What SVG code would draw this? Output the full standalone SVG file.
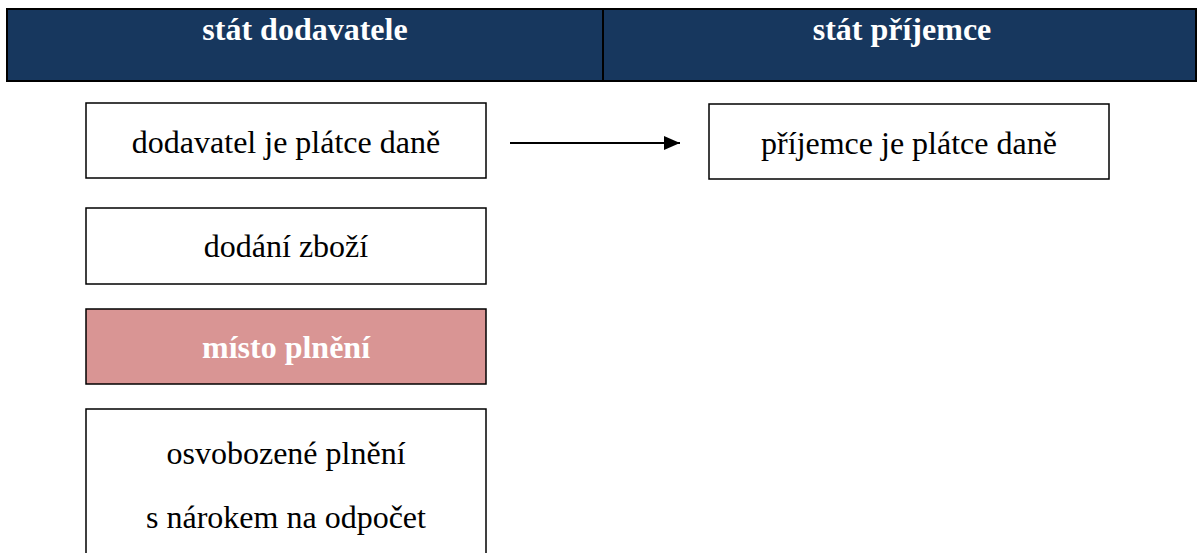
<svg xmlns="http://www.w3.org/2000/svg" width="1198" height="553" viewBox="0 0 1198 553">
<style>
.hdr{fill:#17375E;stroke:#000;stroke-width:2}
.box{fill:#fff;stroke:#000;stroke-width:1.5}
.pink{fill:#D99594;stroke:#000;stroke-width:1.5}
.t{font-family:"Liberation Serif","Times New Roman",serif;font-size:32px;fill:#000;text-anchor:middle}
.tb{font-family:"Liberation Serif","Times New Roman",serif;font-size:32px;font-weight:bold;fill:#fff;text-anchor:middle}
</style>
<defs>
<marker id="arr" markerWidth="16" markerHeight="14" refX="16" refY="7" orient="auto" markerUnits="userSpaceOnUse">
<path d="M0,0 L16,7 L0,14 z" fill="#000"/>
</marker>
</defs>
<g id="hdr-left">
<rect class="hdr" x="7" y="9" width="596" height="72"/>
<text class="tb" x="305" y="40">stát dodavatele</text>
</g>
<g id="hdr-right">
<rect class="hdr" x="603" y="9" width="593" height="72"/>
<text class="tb" x="902" y="40">stát příjemce</text>
</g>
<g id="n1">
<rect class="box" x="86" y="103" width="400" height="75"/>
<text class="t" x="286" y="153">dodavatel je plátce daně</text>
</g>
<g id="n2">
<rect class="box" x="709" y="104" width="400" height="75"/>
<text class="t" x="909" y="154">příjemce je plátce daně</text>
</g>
<g id="n3">
<rect class="box" x="86" y="208" width="400" height="76"/>
<text class="t" x="286" y="257">dodání zboží</text>
</g>
<g id="n4">
<rect class="pink" x="86" y="309" width="400" height="75"/>
<text class="tb" x="286" y="358">místo plnění</text>
</g>
<g id="n5">
<rect class="box" x="86" y="409" width="400" height="150"/>
<text class="t" x="286" y="464">osvobozené plnění</text>
<text class="t" x="286" y="528">s nárokem na odpočet</text>
</g>
<g id="connectors">
<line x1="510" y1="143" x2="680" y2="143" stroke="#000" stroke-width="2" marker-end="url(#arr)"/>
</g>
</svg>
